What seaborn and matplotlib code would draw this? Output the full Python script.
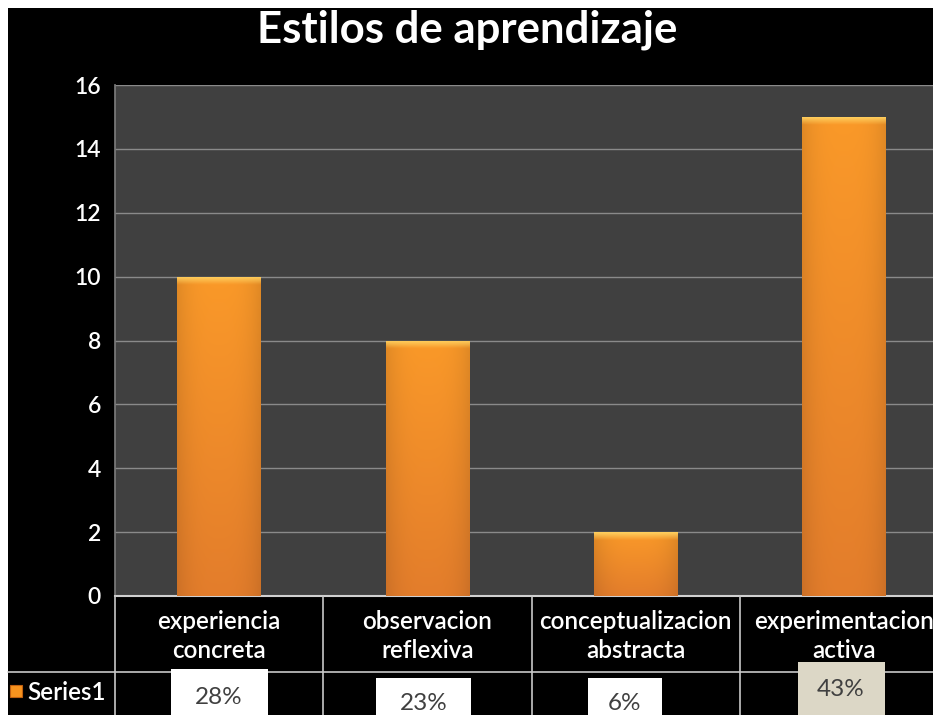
import numpy as np
import matplotlib
matplotlib.use("Agg")
import matplotlib.pyplot as plt
import matplotlib.transforms as mtransforms
from matplotlib.patches import Rectangle
import seaborn as sns
import pandas as pd

# ---- data ----
categories = ["experiencia\nconcreta", "observacion\nreflexiva",
              "conceptualizacion\nabstracta", "experimentacion\nactiva"]
values = [10, 8, 2, 15]
pct_labels = ["28%", "23%", "6%", "43%"]
series_name = "Series1"
title = "Estilos de aprendizaje"
yticks = [0, 2, 4, 6, 8, 10, 12, 14, 16]

df = pd.DataFrame({"cat": categories, "val": values})

sns.set_theme(style="dark")
plt.rcParams["font.family"] = ["Lato", "DejaVu Sans"]

W, H = 933, 715
fig = plt.figure(figsize=(W / 100, H / 100), dpi=100)
fig.patch.set_facecolor("white")
fig.patches.append(Rectangle((8 / W, 0), 1, 1 - 8 / H, transform=fig.transFigure,
                             facecolor="black", edgecolor="none", zorder=-10))

def fy(py):
    return 1 - py / H

left_px, top_px, bot_px, cat_w = 115, 85, 596, 208.3
ax = fig.add_axes([left_px / W, fy(bot_px), 4 * cat_w / W, (bot_px - top_px) / H])
ax.set_facecolor("#404040")

sns.barplot(data=df, x="cat", y="val", color="#F7931E", width=0.4, ax=ax,
            saturation=1, edgecolor="none", zorder=3)
ax.set_xlim(-0.5, 3.5)
ax.set_ylim(0, 16)
ax.set_yticks(yticks)
ax.set_yticklabels([str(t) for t in yticks], color="white", fontsize=16.5,
                   fontweight="semibold")
ax.tick_params(axis="y", length=0, pad=10)
ax.set_xticks([])
ax.set_xlabel("")
ax.set_ylabel("")
ax.grid(axis="y", color="#8a8a8a", linewidth=1, zorder=1)
ax.grid(axis="x", visible=False)
for s in ["top", "right"]:
    ax.spines[s].set_visible(False)
ax.spines["left"].set_color("#7a7a7a")
ax.spines["bottom"].set_color("#d0d0d0")
ax.spines["bottom"].set_linewidth(1.5)

# gradient fill for bars
nx, ny = 64, 300
xs = np.linspace(0, 1, nx)
hprof = 1 - 0.10 * (np.abs(xs - 0.5) * 2) ** 3
top_c = np.array([0.98, 0.60, 0.16])
bot_c = np.array([0.89, 0.49, 0.17])
light = np.array([1.0, 0.82, 0.38])
for p in ax.patches:
    x0, y0 = p.get_x(), p.get_y()
    w, h = p.get_width(), p.get_height()
    if h <= 0:
        continue
    hpx = h * 31.94
    ys = np.linspace(0, 1, ny)  # 0 = top
    col = top_c[None, :] * (1 - ys[:, None]) + bot_c[None, :] * ys[:, None]
    img = col[:, None, :] * hprof[None, :, None]
    bev_frac = 8 / hpx
    t = np.clip(1 - ys / bev_frac, 0, 1)[:, None, None]
    img = img * (1 - t) + light[None, None, :] * t
    img = np.clip(img, 0, 1)
    im = ax.imshow(img, extent=(x0, x0 + w, y0, y0 + h), aspect="auto",
                   zorder=4, interpolation="bilinear")
    im.set_clip_path(p)
ax.set_xlim(-0.5, 3.5)
ax.set_ylim(0, 16)

# title
fig.text(467 / W, fy(30), title, color="white", fontsize=31.5, fontweight="bold",
         ha="center", va="center")

# ---- data table below ----
tr = mtransforms.blended_transform_factory(ax.transData, fig.transFigure)
line_col = "#c8c8c8"
for xb in [-0.5, 0.5, 1.5, 2.5]:
    fig.add_artist(plt.Line2D([xb, xb], [fy(bot_px), 0], transform=tr,
                              color=line_col, linewidth=1.2))
fig.add_artist(plt.Line2D([8 / W, 1], [fy(672), fy(672)], transform=fig.transFigure,
                          color=line_col, linewidth=1.2))

for i, c in enumerate(categories):
    fig.text(i, fy(636), c, transform=tr, color="white", fontsize=17.5,
             fontweight="semibold", ha="center", va="center", linespacing=1.35)

box_w = [97, 95, 74, 87]
box_dx = [0, -4, -11, -3]
box_top = [669, 678, 678, 662]
box_col = ["white", "white", "white", "#dcd7c6"]
txt_y = [697, 704, 704, 690]
for i, lab in enumerate(pct_labels):
    cx = i + box_dx[i] / cat_w
    wd = box_w[i] / cat_w
    fig.patches.append(Rectangle((cx - wd / 2, 0), wd, fy(box_top[i]), transform=tr,
                                 facecolor=box_col[i], edgecolor="none", zorder=2))
    fig.text(cx, fy(txt_y[i]), lab, transform=tr, color="#404040", fontsize=17.5,
             ha="center", va="center", zorder=3)

# legend key
fig.patches.append(Rectangle((10 / W, fy(697)), 12 / W, 12 / H, transform=fig.transFigure,
                             facecolor="#F7931E", edgecolor="#c06010", linewidth=0.8))
fig.text(27 / W, fy(692), series_name, color="white", fontsize=17.5,
         fontweight="semibold", ha="left", va="center")

fig.savefig("out.png", dpi=100, facecolor=fig.get_facecolor())
